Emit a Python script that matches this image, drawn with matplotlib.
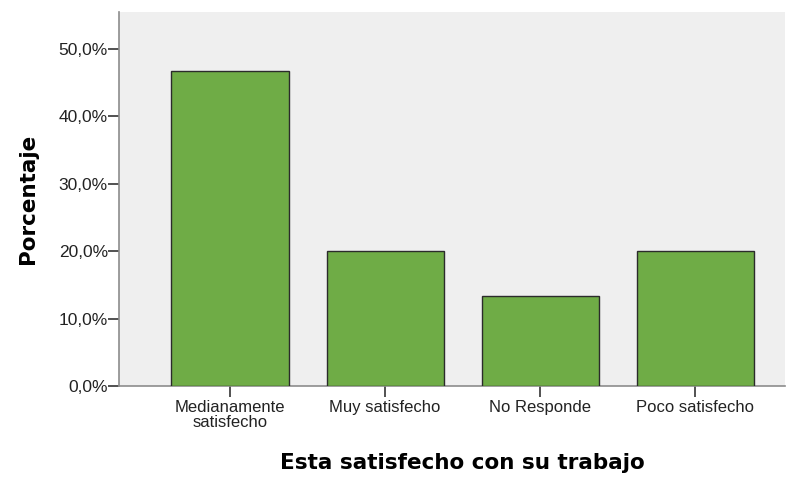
import matplotlib
matplotlib.use("Agg")
import matplotlib.pyplot as plt
import matplotlib.ticker as mticker

categories = ["Medianamente\nsatisfecho", "Muy satisfecho", "No Responde", "Poco satisfecho"]
percentages = [46.7, 20.0, 13.3, 20.0]
y_ticks = [0, 10, 20, 30, 40, 50]

fig = plt.figure(figsize=(7.89, 4.78), dpi=100)
ax = fig.add_axes([119 / 789, 92 / 478, 666 / 789, 374 / 478])
ax.set_facecolor("#efefef")

x = range(len(categories))
ax.bar(x, percentages, width=0.755, color="#6fac46", edgecolor="#2b2b2b", linewidth=1.0, zorder=3)

ax.set_xlim(-0.716, 3.58)
ax.set_ylim(0, 55.5)
ax.set_yticks(y_ticks)
ax.yaxis.set_major_formatter(mticker.FuncFormatter(lambda v, _: f"{v:.1f}%".replace(".", ",")))
ax.set_xticks(list(x))
ax.set_xticklabels(categories, fontfamily="Liberation Sans", fontsize=12, linespacing=1.05)
for lbl in ax.get_yticklabels():
    lbl.set_fontfamily("Liberation Sans")
    lbl.set_fontsize(12.5)

ax.tick_params(axis="both", direction="out", length=8, width=1.2, color="#333333", labelcolor="#222222")
ax.tick_params(axis="x", pad=2)
ax.tick_params(axis="y", pad=0)

for side in ["top", "right"]:
    ax.spines[side].set_visible(False)
ax.spines["left"].set_color("#8c8c8c")
ax.spines["bottom"].set_color("#8c8c8c")
ax.spines["left"].set_linewidth(1.2)
ax.spines["bottom"].set_linewidth(1.2)

ax.set_ylabel("Porcentaje", fontsize=15.5, fontweight="bold", fontfamily="DejaVu Sans", labelpad=15)
ax.set_xlabel("Esta satisfecho con su trabajo", fontsize=15.5, fontweight="bold", fontfamily="DejaVu Sans", labelpad=16)
ax.xaxis.label.set_x(0.515)

fig.savefig("out.png", dpi=100)
